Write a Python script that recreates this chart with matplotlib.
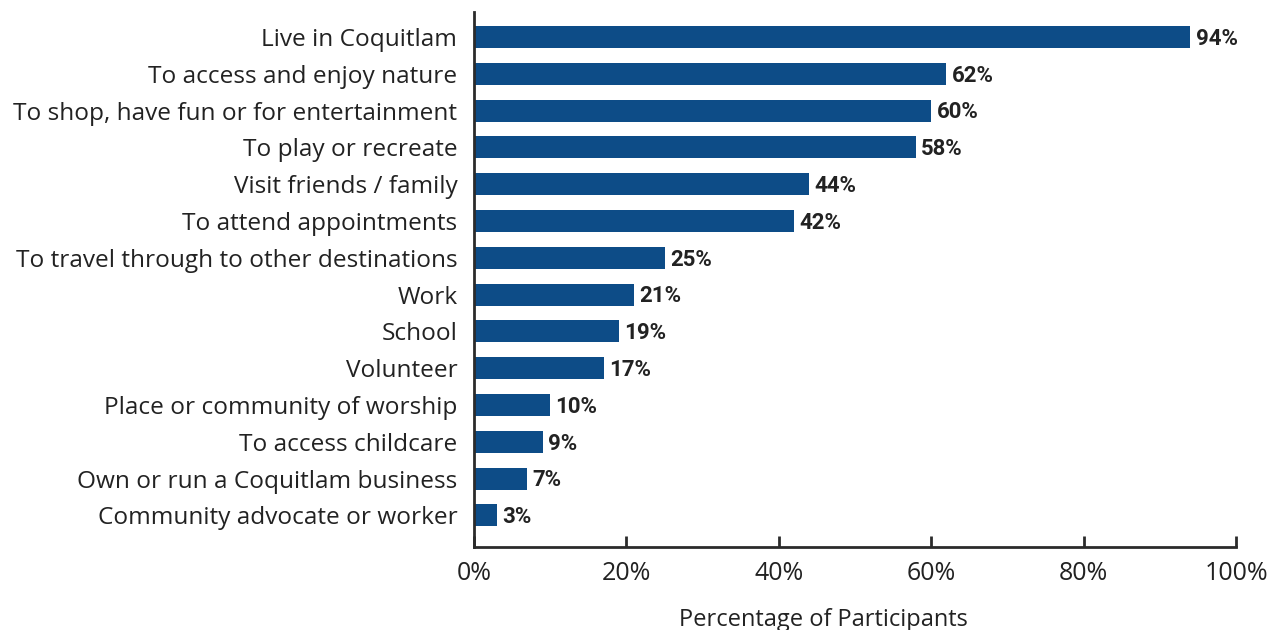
import matplotlib
matplotlib.use("Agg")
import matplotlib.pyplot as plt

categories = [
    "Live in Coquitlam",
    "To access and enjoy nature",
    "To shop, have fun or for entertainment",
    "To play or recreate",
    "Visit friends / family",
    "To attend appointments",
    "To travel through to other destinations",
    "Work",
    "School",
    "Volunteer",
    "Place or community of worship",
    "To access childcare",
    "Own or run a Coquitlam business",
    "Community advocate or worker",
]
values = [94, 62, 60, 58, 44, 42, 25, 21, 19, 17, 10, 9, 7, 3]
xticks = [0, 20, 40, 60, 80, 100]

bar_color = "#0d4c87"
axis_color = "#2b2b2b"
text_color = "#222222"

plt.rcParams["font.family"] = ["Open Sans", "DejaVu Sans"]

fig = plt.figure(figsize=(12.85, 6.30), dpi=100)
ax = fig.add_axes([0.3689, 0.1317, 0.5930, 0.8493])

y = list(range(len(categories)))
ax.barh(y, values, height=0.6, color=bar_color)

for yi, v in zip(y, values):
    ax.text(v + 0.7, yi + 0.05, f"{v}%", va="center", ha="left", fontsize=16,
            fontweight="bold", color=text_color,
            family=["Roboto", "DejaVu Sans"])

ax.set_ylim(13.86, -0.68)
ax.set_xlim(0, 100)

ax.set_yticks(y)
ax.set_yticklabels(categories, fontsize=17.6, color=text_color)
ax.tick_params(axis="y", length=0, pad=12)

ax.set_xticks(xticks)
ax.set_xticklabels([f"{t}%" for t in xticks], fontsize=18, color=text_color)
ax.tick_params(axis="x", direction="in", length=8, width=2, color=axis_color, pad=10)

for side in ["top", "right"]:
    ax.spines[side].set_visible(False)
for side in ["left", "bottom"]:
    ax.spines[side].set_color(axis_color)
    ax.spines[side].set_linewidth(2)

xlab = ax.set_xlabel("Percentage of Participants", fontsize=17, color=text_color)
xlab.set_verticalalignment("center")
ax.xaxis.set_label_coords(0.458, -0.137)

fig.savefig("out.png", dpi=100)
